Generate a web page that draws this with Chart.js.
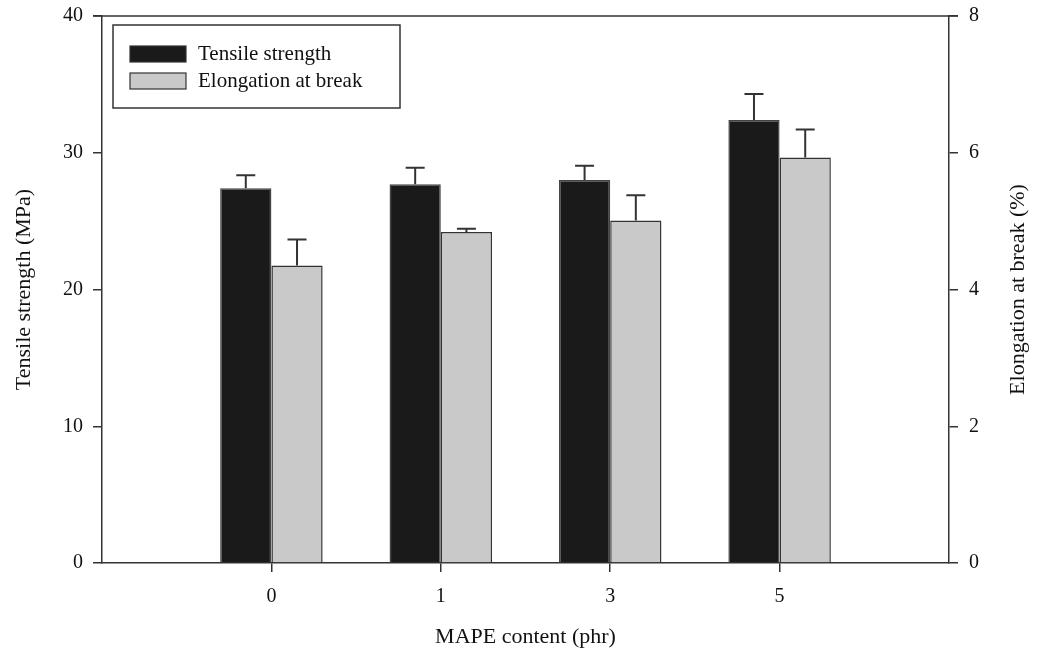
<!DOCTYPE html>
<html>
<head>
<meta charset="utf-8">
<script src="https://cdn.jsdelivr.net/npm/chart.js@4/dist/chart.umd.min.js"></script>
<style>
  body { margin: 0; background: #fff; }
</style>
</head>
<body>
<canvas id="mapeChart" width="1039" height="659"></canvas>
<script>
// data
const categories = ['0', '1', '3', '5'];
const tensileStrength = [27.4, 27.7, 28.0, 32.4];
const tensileError = [0.95, 1.2, 1.05, 1.9];
const elongation = [4.35, 4.84, 5.01, 5.93];
const elongationError = [0.38, 0.05, 0.37, 0.41];
const leftTicks = [0, 10, 20, 30, 40];
const rightTicks = [0, 2, 4, 6, 8];

const serif = 'Liberation Serif';
const axisColor = '#333';
const rightTitle = 'Elongation at break (%)';

// category i sits at x = i + 1 on a 0..5 linear axis
const xPos = categories.map((c, i) => i + 1);
const toPoints = (vals) => vals.map((v, i) => ({ x: xPos[i], y: v }));

// error bars (upper only, with cap)
const errorBars = {
  id: 'errorBars',
  afterDatasetsDraw(chart) {
    const c = chart.ctx;
    chart.data.datasets.forEach((ds, di) => {
      const meta = chart.getDatasetMeta(di);
      const scale = chart.scales[ds.yAxisID];
      meta.data.forEach((bar, i) => {
        const top = scale.getPixelForValue(ds.data[i].y + ds.errors[i]);
        c.save();
        c.strokeStyle = axisColor;
        c.lineWidth = 2;
        c.beginPath();
        c.moveTo(bar.x, bar.y);
        c.lineTo(bar.x, top);
        c.moveTo(bar.x - 9.5, top);
        c.lineTo(bar.x + 9.5, top);
        c.stroke();
        c.restore();
      });
    });
  }
};

// top frame line, right title (reads bottom-up) and boxed legend
const frameAndLegend = {
  id: 'frameAndLegend',
  afterDraw(chart) {
    const c = chart.ctx;
    const a = chart.chartArea;
    c.save();
    c.strokeStyle = axisColor;
    c.lineWidth = 1.5;
    c.beginPath();
    c.moveTo(a.left - 9, a.top);
    c.lineTo(a.right + 9, a.top);
    c.stroke();

    // right axis title
    c.save();
    c.translate(1018, (a.top + a.bottom) / 2);
    c.rotate(-Math.PI / 2);
    c.font = '22px "' + serif + '"';
    c.fillStyle = '#111';
    c.textAlign = 'center';
    c.textBaseline = 'middle';
    c.fillText(rightTitle, 0, 0);
    c.restore();

    // legend box
    const bx = a.left + 11, by = a.top + 9, bw = 287, bh = 83;
    c.fillStyle = '#fff';
    c.fillRect(bx, by, bw, bh);
    c.lineWidth = 1.5;
    c.strokeRect(bx, by, bw, bh);
    c.font = '21px "' + serif + '"';
    c.textBaseline = 'middle';
    chart.data.datasets.forEach((ds, i) => {
      const sy = by + 21 + i * 27;
      c.fillStyle = ds.backgroundColor;
      c.fillRect(bx + 17, sy, 56, 16);
      c.strokeStyle = axisColor;
      c.lineWidth = 1.2;
      c.strokeRect(bx + 17, sy, 56, 16);
      c.fillStyle = '#111';
      c.fillText(ds.label, bx + 85, sy + 8);
    });
    c.restore();
  }
};

const tickFont = { family: serif, size: 20 };
const titleFont = { family: serif, size: 22 };
const axisGrid = { display: true, drawOnChartArea: false, drawTicks: true, tickLength: 9, color: axisColor, lineWidth: 1.5, offset: false };
const axisBorder = { display: true, color: axisColor, width: 1.5 };

// fixed axis width, no extra top/bottom padding from tick labels
const fitVertical = (w) => (s) => { s.width = w; s.paddingTop = 0; s.paddingBottom = 0; };

new Chart(document.getElementById('mapeChart'), {
  type: 'bar',
  data: {
    datasets: [{
      label: 'Tensile strength',
      data: toPoints(tensileStrength),
      errors: tensileError,
      yAxisID: 'y',
      backgroundColor: '#1a1a1a',
      borderColor: '#444',
      borderWidth: 1.5
    }, {
      label: 'Elongation at break',
      data: toPoints(elongation),
      errors: elongationError,
      yAxisID: 'y1',
      backgroundColor: '#c9c9c9',
      borderColor: axisColor,
      borderWidth: 1.5
    }]
  },
  options: {
    responsive: false,
    animation: false,
    categoryPercentage: 0.605,
    barPercentage: 1,
    layout: { padding: { top: 16, left: 0, right: 0, bottom: 0 } },
    plugins: {
      legend: { display: false },
      tooltip: { enabled: false }
    },
    scales: {
      x: {
        type: 'linear',
        offset: false,
        min: 0,
        max: 5,
        afterBuildTicks: (s) => { s.ticks = xPos.map(v => ({ value: v })); },
        afterFit: (s) => { s.height = 96; s.paddingLeft = 0; s.paddingRight = 0; },
        grid: axisGrid,
        border: axisBorder,
        ticks: {
          color: '#111',
          font: tickFont,
          padding: 13,
          callback: (v) => categories[v - 1]
        },
        title: { display: true, text: 'MAPE content (phr)', color: '#111', font: titleFont, padding: { top: 0, bottom: 9 } }
      },
      y: {
        position: 'left',
        min: 0,
        max: 40,
        afterBuildTicks: (s) => { s.ticks = leftTicks.map(v => ({ value: v })); },
        afterFit: fitVertical(102),
        grid: axisGrid,
        border: axisBorder,
        ticks: { color: '#111', font: tickFont, padding: 10 },
        title: { display: true, text: 'Tensile strength (MPa)', color: '#111', font: titleFont, padding: { top: 11, bottom: 0 } }
      },
      y1: {
        position: 'right',
        min: 0,
        max: 8,
        afterBuildTicks: (s) => { s.ticks = rightTicks.map(v => ({ value: v })); },
        afterFit: fitVertical(90),
        grid: axisGrid,
        border: axisBorder,
        ticks: { color: '#111', font: tickFont, padding: 11 }
      }
    }
  },
  plugins: [errorBars, frameAndLegend]
});
</script>
</body>
</html>
